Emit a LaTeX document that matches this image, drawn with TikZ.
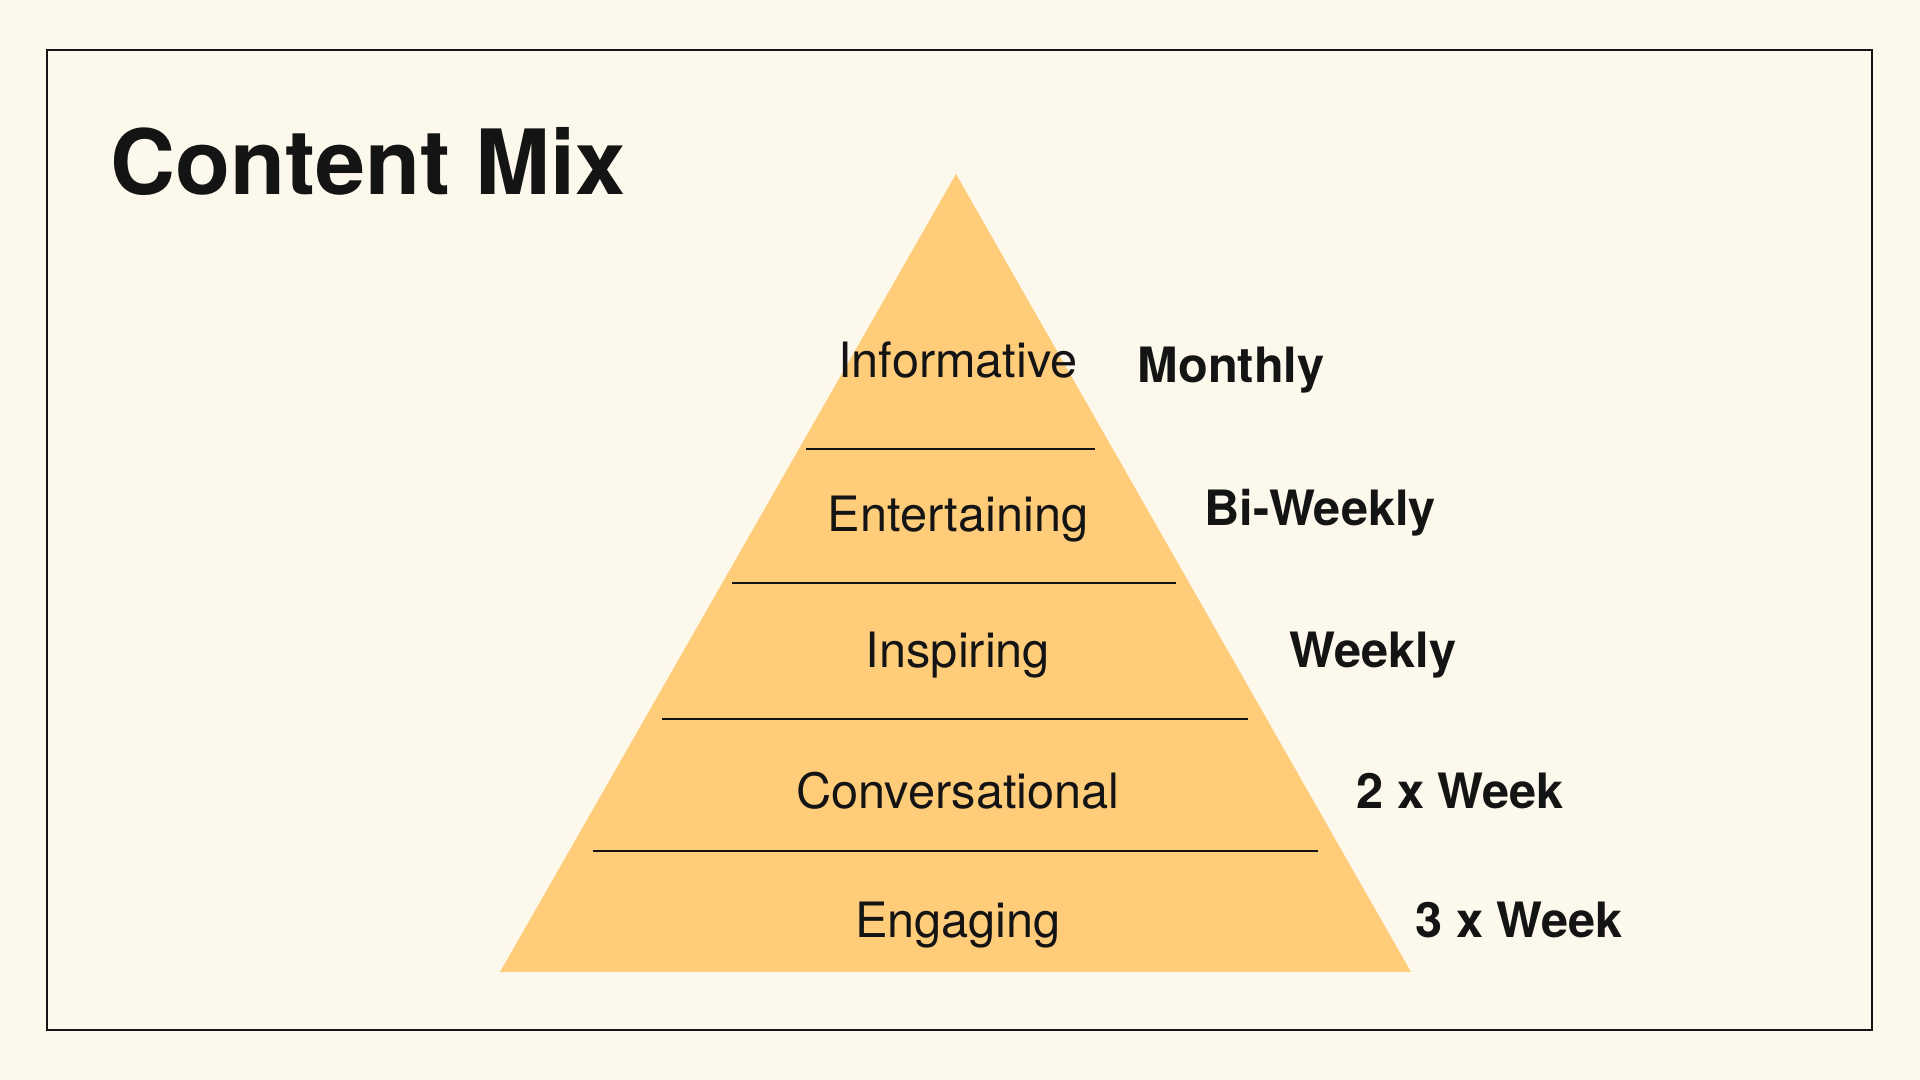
\documentclass[tikz,border=0pt]{standalone}
\usepackage{fontspec}
\setmainfont{TeX Gyre Heros}
\usepackage{tikz}

\definecolor{cream}{RGB}{252,248,236}
\definecolor{sand}{RGB}{255,204,122}
\definecolor{ink}{RGB}{20,20,20}

\begin{document}
\begin{tikzpicture}[x=0.01cm,y=-0.01cm,
    layer/.style={anchor=base,text=ink,font=\fontsize{13.85}{16}\selectfont},
    freq/.style={anchor=base west,text=ink,font=\fontsize{13.85}{16}\selectfont\bfseries}]
\fill[cream] (0,0) rectangle (1920,1080);
\draw[ink,line width=0.6pt] (47,50) rectangle (1872,1030);
\node[anchor=base west,inner sep=0pt,text=ink,font=\fontsize{25.6}{30}\selectfont\bfseries] (title) at (110,195) {Content Mix};
\fill[sand] (500,972) coordinate (bl) -- (956,174) coordinate (apex) -- (1411,972) coordinate (br) -- cycle;
\foreach \y/\l/\r in {449/806/1095,583/732/1176,719/662/1248,851/593/1318}
    \draw[ink,line width=0.6pt] (\l,\y) -- (\r,\y);
\foreach \y/\name/\txt in {378/inf/Informative,532/ent/Entertaining,668/ins/Inspiring,809/con/Conversational,938/eng/Engaging}
    \node[layer,inner sep=0pt] (\name) at (958,\y) {\txt};
\foreach \x/\y/\name/\txt in {1137/383/monthly/Monthly,1204/526/biweekly/Bi-Weekly,1289/668/weekly/Weekly,1356/809/twice/2 x Week,1415/938/thrice/3 x Week}
    \node[freq,inner sep=0pt] (\name) at (\x,\y) {\txt};
\end{tikzpicture}
\end{document}
